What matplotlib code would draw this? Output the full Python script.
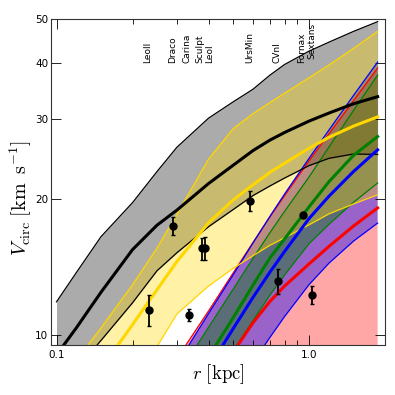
import matplotlib
matplotlib.use('Agg')
import matplotlib.pyplot as plt
from matplotlib.ticker import FixedLocator, FixedFormatter, NullLocator

plt.rcParams['mathtext.fontset'] = 'cm'
plt.rcParams['font.family'] = ['DejaVu Sans']

# radius grid [kpc]
r_grid = [0.1, 0.12, 0.15, 0.2, 0.25, 0.3, 0.4, 0.5, 0.6, 0.7, 0.8, 1.0, 1.2, 1.5, 1.87]

# grey band (black lines)
gray_up = [11.84, 13.76, 16.50, 19.63, 23.0, 26.05, 30.2, 32.8, 35.0, 37.6, 39.7, 42.5, 44.5, 47.0, 49.4]
gray_mid = [9.03, 10.38, 12.43, 15.45, 17.50, 18.90, 21.64, 23.74, 25.6, 27.0, 28.07, 29.75, 31.0, 32.5, 33.7]
gray_low = [7.4, 8.42, 9.72, 11.78, 13.87, 15.21, 17.36, 18.94, 20.35, 21.37, 22.25, 23.71, 24.61, 25.16, 25.1]
# gold band
gold_up = [7.7, 8.80, 10.36, 12.91, 15.57, 18.51, 24.5, 28.6, 30.9, 32.7, 34.3, 37.1, 39.6, 43.1, 47.0]
gold_mid = [6.1, 7.06, 8.41, 10.54, 12.59, 14.55, 17.71, 19.88, 21.5, 22.9, 24.0, 25.9, 27.4, 29.0, 30.4]
gold_low = [4.4, 5.0, 5.97, 7.63, 9.42, 11.13, 12.83, 14.03, 14.98, 15.79, 16.41, 17.53, 18.54, 19.5, 20.43]
# red band
red_up = [3.4, 3.98, 4.84, 6.2, 7.55, 8.87, 11.3, 13.7, 16.02, 18.25, 20.33, 24.28, 27.9, 33.0, 39.0]
red_mid = [2.37, 2.76, 3.32, 4.24, 5.11, 5.95, 7.59, 9.15, 10.64, 11.86, 12.83, 14.36, 15.71, 17.42, 19.11]
red_low = [1.5, 1.7, 2.0, 2.5, 2.9, 3.3, 4.1, 4.8, 5.4, 5.9, 6.3, 7.0, 7.6, 8.2, 8.6]
# blue band
blue_up = [3.22, 3.79, 4.62, 6.0, 7.32, 8.62, 11.15, 13.57, 15.98, 18.3, 20.51, 24.6, 28.44, 33.9, 40.2]
blue_mid = [2.44, 2.87, 3.51, 4.53, 5.54, 6.52, 8.45, 10.31, 12.11, 13.77, 15.3, 18.1, 20.29, 23.0, 25.7]
blue_low = [1.98, 2.31, 2.77, 3.51, 4.22, 4.90, 6.22, 7.47, 8.69, 9.87, 10.98, 12.92, 14.42, 16.13, 17.69]
# green band
green_up = [3.12, 3.65, 4.44, 5.7, 6.92, 8.11, 10.39, 12.61, 14.78, 16.84, 18.77, 22.37, 26.07, 31.4, 37.6]
green_mid = [2.58, 3.04, 3.71, 4.80, 5.88, 6.92, 8.94, 10.9, 12.89, 14.81, 16.31, 19.21, 21.85, 24.98, 27.5]
green_low = [2.34, 2.73, 3.30, 4.22, 5.11, 5.97, 7.62, 9.21, 10.76, 12.25, 13.57, 15.92, 17.58, 19.66, 21.7]

# dwarf galaxies
gal_names = ['LeoII', 'Draco', 'Carina', 'Sculpt', 'LeoI', 'UrsMin', 'CVnI', 'Fornax', 'Sextans']
gal_r = [0.2325, 0.290, 0.335, 0.376, 0.387, 0.584, 0.751, 0.949, 1.025]
gal_v = [11.36, 17.46, 11.08, 15.54, 15.54, 19.83, 13.18, 18.43, 12.27]
gal_err = [0.9, 0.8, 0.35, 0.85, 0.9, 1.0, 0.85, 0.3, 0.55]
label_r = [0.2304, 0.2886, 0.3285, 0.370, 0.4055, 0.584, 0.745, 0.935, 1.025]
label_v = [40, 40, 40, 40, 40, 40, 40, 40, 40.8]

x_ticks = [0.1, 1.0]
x_ticklabels = ['0.1', '1.0']
x_minor = [0.2, 0.3, 0.4, 0.5, 0.6, 0.7, 0.8, 0.9, 2.0]
y_ticks = [10, 20, 30, 40, 50]
y_ticklabels = ['10', '20', '30', '40', '50']

fig = plt.figure(figsize=(3.95, 3.95), dpi=100)
ax = fig.add_axes([51 / 395, 1 - 345 / 395, 334 / 395, (345 - 19.3) / 395])
ax.set_xscale('log')
ax.set_yscale('log')

bands = [
    (red_low, red_mid, red_up, 'red', 0.35),
    (blue_low, blue_mid, blue_up, 'blue', 0.40),
    (green_low, green_mid, green_up, 'green', 0.40),
    (gray_low, gray_mid, gray_up, 'black', 0.33),
    (gold_low, gold_mid, gold_up, 'gold', 0.35),
]
for lo, mid, up, col, a in bands:
    ax.fill_between(r_grid, lo, up, color=col, alpha=a, lw=0, zorder=1)
for lo, mid, up, col, a in bands:
    ax.plot(r_grid, lo, color=col, lw=0.9, zorder=2)
    ax.plot(r_grid, up, color=col, lw=0.9, zorder=2)
for lo, mid, up, col, a in bands:
    ax.plot(r_grid, mid, color=col, lw=2.2, zorder=3)

ax.errorbar(gal_r, gal_v, yerr=gal_err, fmt='o', color='k', ms=5,
            capsize=1.5, elinewidth=1.3, capthick=1.0, zorder=5)

for name, rr, vv in zip(gal_names, label_r, label_v):
    ax.text(rr, vv, name, rotation=90, ha='center', va='bottom', fontsize=6.5, zorder=6)

ax.set_xlim(0.0951, 2.0)
ax.set_ylim(9.5, 50)

ax.xaxis.set_major_locator(FixedLocator(x_ticks))
ax.xaxis.set_major_formatter(FixedFormatter(x_ticklabels))
ax.xaxis.set_minor_locator(FixedLocator(x_minor))
ax.xaxis.set_minor_formatter(FixedFormatter([''] * len(x_minor)))
ax.yaxis.set_major_locator(FixedLocator(y_ticks))
ax.yaxis.set_major_formatter(FixedFormatter(y_ticklabels))
ax.yaxis.set_minor_locator(NullLocator())

ax.tick_params(which='both', direction='in', top=True, right=True, labelsize=7.5)
ax.tick_params(which='major', length=7, width=0.6)
ax.tick_params(which='minor', length=3.5, width=0.6)
ax.tick_params(axis='x', pad=3.5)
ax.tick_params(axis='y', pad=2)
for s in ax.spines.values():
    s.set_linewidth(0.8)
    s.set_color('#333333')

ax.set_xlabel(r'$r\ [\mathrm{kpc}]$', fontsize=13.5, labelpad=2)
ax.set_ylabel(r'$V_{\rm circ}\;[\mathrm{km\;\;s^{-1}}]$', fontsize=14.5)
ax.yaxis.set_label_coords(-0.052, 0.45)

fig.savefig('out.png', dpi=100)
